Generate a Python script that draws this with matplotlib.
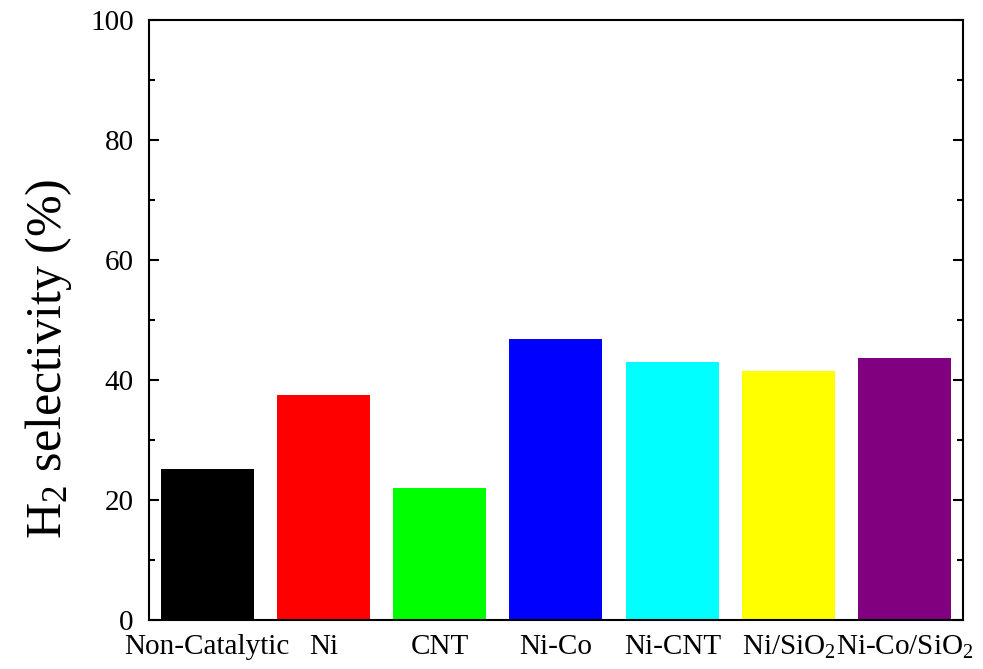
import matplotlib
matplotlib.use("Agg")
import matplotlib.pyplot as plt
from matplotlib.ticker import MultipleLocator

categories = ["Non-Catalytic", "Ni", "CNT", "Ni-Co", "Ni-CNT", "Ni/SiO$_2$", "Ni-Co/SiO$_2$"]
values = [25.1, 37.4, 21.9, 46.85, 42.9, 41.5, 43.6]
colors = ["#000000", "#ff0000", "#00ff00", "#0000ff", "#00ffff", "#ffff00", "#800080"]

plt.rcParams["font.family"] = ["Liberation Serif", "DejaVu Serif"]
plt.rcParams["mathtext.fontset"] = "custom"
plt.rcParams["mathtext.rm"] = "Liberation Serif"
plt.rcParams["mathtext.it"] = "Liberation Serif:italic"

fig = plt.figure(figsize=(9.83, 6.69), dpi=100)
ax = fig.add_axes([0.1516, 0.0737, 0.828, 0.897])

x = list(range(len(categories)))
ax.bar(x, values, width=0.8, color=colors, edgecolor="none")

ax.set_xlim(-0.5, len(categories) - 0.5)
ax.set_ylim(0, 100)
ax.yaxis.set_major_locator(MultipleLocator(20))
ax.yaxis.set_minor_locator(MultipleLocator(10))
ax.set_xticks(x)
ax.set_xticklabels(categories, fontsize=21)
ax.tick_params(axis="x", length=0, pad=10)
ax.tick_params(axis="y", which="both", direction="in", left=True, right=True, labelsize=21, width=1.5, pad=11)
ax.tick_params(axis="y", which="major", length=7)
ax.tick_params(axis="y", which="minor", length=4)
for s in ax.spines.values():
    s.set_linewidth(1.5)

ax.set_ylabel("H$_2$ selectivity (%)", fontsize=36)
ax.yaxis.set_label_coords(-0.092, 0.434)

fig.savefig("out.png", dpi=100)
